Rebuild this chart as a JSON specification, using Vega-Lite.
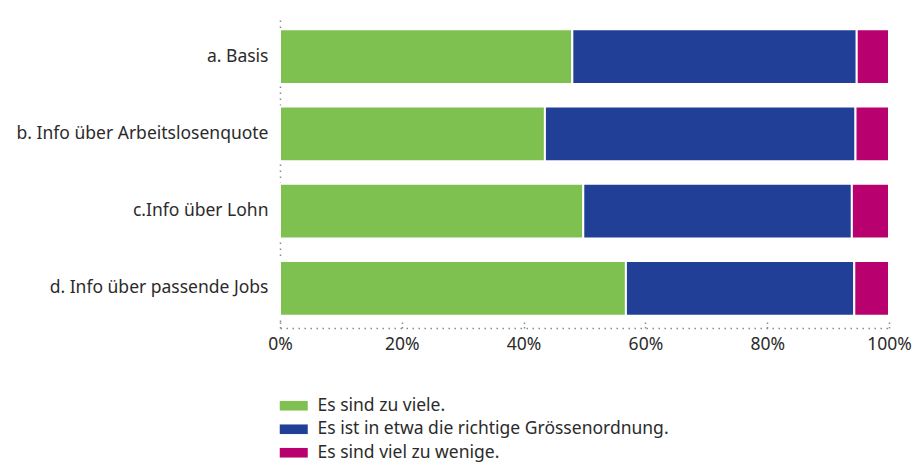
{
  "$schema": "https://vega.github.io/schema/vega-lite/v6.json",
  "autosize": "none",
  "width": 609,
  "height": 305,
  "padding": {"left": 280, "top": 20, "right": 25, "bottom": 138},
  "background": "white",
  "config": {
    "view": {"stroke": null},
    "font": "Noto Sans",
    "axis": {"labelFont": "Noto Sans", "labelColor": "#2b2b2b", "labelFontSize": 17.5, "labelLimit": 0},
    "legend": {"labelFont": "Noto Sans", "labelColor": "#2b2b2b", "labelFontSize": 17.5, "labelLimit": 0}
  },
  "data": {
    "values": [
      {"cat": "a. Basis", "resp": "Es sind zu viele.", "ord": 1, "value": 48.0},
      {"cat": "a. Basis", "resp": "Es ist in etwa die richtige Grössenordnung.", "ord": 2, "value": 46.7},
      {"cat": "a. Basis", "resp": "Es sind viel zu wenige.", "ord": 3, "value": 5.3},
      {"cat": "b. Info über Arbeitslosenquote", "resp": "Es sind zu viele.", "ord": 1, "value": 43.5},
      {"cat": "b. Info über Arbeitslosenquote", "resp": "Es ist in etwa die richtige Grössenordnung.", "ord": 2, "value": 51.0},
      {"cat": "b. Info über Arbeitslosenquote", "resp": "Es sind viel zu wenige.", "ord": 3, "value": 5.5},
      {"cat": "c.Info über Lohn", "resp": "Es sind zu viele.", "ord": 1, "value": 49.8},
      {"cat": "c.Info über Lohn", "resp": "Es ist in etwa die richtige Grössenordnung.", "ord": 2, "value": 44.1},
      {"cat": "c.Info über Lohn", "resp": "Es sind viel zu wenige.", "ord": 3, "value": 6.1},
      {"cat": "d. Info über passende Jobs", "resp": "Es sind zu viele.", "ord": 1, "value": 56.8},
      {"cat": "d. Info über passende Jobs", "resp": "Es ist in etwa die richtige Grössenordnung.", "ord": 2, "value": 37.5},
      {"cat": "d. Info über passende Jobs", "resp": "Es sind viel zu wenige.", "ord": 3, "value": 5.7}
    ]
  },
  "mark": {"type": "bar", "stroke": "white", "strokeWidth": 2},
  "encoding": {
    "y": {
      "field": "cat", "type": "nominal", "title": null, "sort": null,
      "scale": {"paddingInner": 0.29, "paddingOuter": 0.12},
      "axis": {
        "zindex": 0, "ticks": false, "domainColor": "#8a8a8a", "domainDash": [1.5, 4.5], "domainWidth": 1.5,
        "labelPadding": 12
      }
    },
    "x": {
      "field": "value", "type": "quantitative", "stack": "normalize", "title": null,
      "scale": {"domain": [0, 1], "nice": false},
      "axis": {
        "format": "%", "values": [0, 0.2, 0.4, 0.6, 0.8, 1], "grid": false, "labelFlush": false,
        "domainColor": "#8a8a8a", "domainDash": [1.5, 4.5], "domainWidth": 1.5,
        "tickColor": "#8a8a8a", "tickSize": -6, "tickDash": [1.5, 3], "tickWidth": 1.5,
        "labelPadding": 13, "offset": 3
      }
    },
    "color": {
      "field": "resp", "type": "nominal", "title": null,
      "scale": {
        "domain": ["Es sind zu viele.", "Es ist in etwa die richtige Grössenordnung.", "Es sind viel zu wenige."],
        "range": ["#7fc151", "#213f96", "#b8006e"]
      },
      "legend": {
        "orient": "none", "legendX": 5, "legendY": 377, "direction": "vertical",
        "symbolType": "M-1.75,-0.6H1.75V0.6H-1.75Z", "symbolSize": 256, "symbolStrokeWidth": 0,
        "labelOffset": 15, "rowPadding": 4.5
      }
    },
    "order": {"field": "ord", "type": "quantitative"}
  }
}
